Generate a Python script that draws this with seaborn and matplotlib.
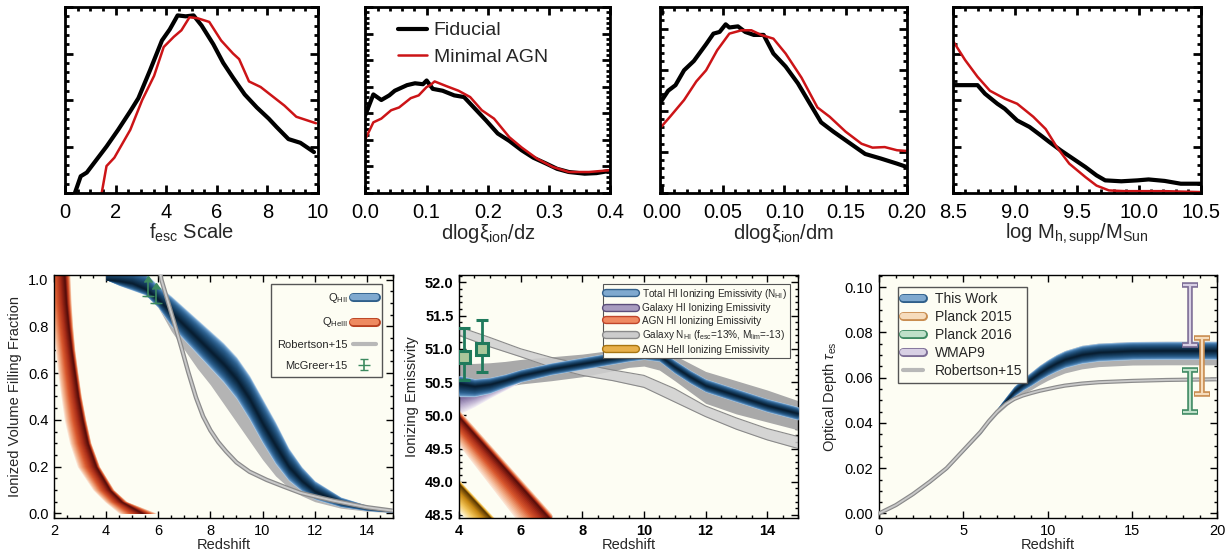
import numpy as np
import matplotlib
matplotlib.use("Agg")
import matplotlib.pyplot as plt
import matplotlib.patheffects as pe
from matplotlib.lines import Line2D
from matplotlib.ticker import MultipleLocator, FormatStrFormatter
import seaborn as sns

# ---------------- top row: marginal posteriors ----------------
fesc_fid_x = [0.30, 0.39, 0.62, 0.86, 1.64, 2.10, 2.58, 2.90, 3.36, 3.83, 4.14, 4.45, 4.77, 5.08,
              5.40, 5.86, 6.25, 6.64, 7.10, 7.58, 8.05, 8.36, 8.83, 9.30, 9.84]
fesc_fid_y = [-0.05, 0.0, 0.09, 0.11, 0.25, 0.34, 0.44, 0.51, 0.66, 0.82, 0.88, 0.955, 0.95, 0.955,
              0.90, 0.80, 0.70, 0.62, 0.53, 0.46, 0.40, 0.355, 0.29, 0.27, 0.22]
fesc_agn_x = [1.40, 1.45, 1.64, 1.95, 2.58, 3.05, 3.52, 3.90, 4.30, 4.60, 4.92, 5.23, 5.70, 6.17,
              6.64, 6.88, 7.27, 7.73, 8.20, 8.67, 9.14, 9.92]
fesc_agn_y = [-0.05, 0.0, 0.145, 0.19, 0.34, 0.50, 0.63, 0.785, 0.84, 0.875, 0.945, 0.94, 0.92, 0.82,
              0.75, 0.72, 0.60, 0.57, 0.52, 0.47, 0.41, 0.375]

dz_fid_x = [0.0, 0.013, 0.026, 0.039, 0.048, 0.068, 0.081, 0.094, 0.100, 0.110, 0.126, 0.145, 0.161,
            0.177, 0.197, 0.216, 0.235, 0.255, 0.274, 0.294, 0.313, 0.332, 0.358, 0.377, 0.397]
dz_fid_y = [0.42, 0.53, 0.50, 0.525, 0.55, 0.58, 0.59, 0.585, 0.605, 0.56, 0.55, 0.525, 0.516,
            0.46, 0.39, 0.32, 0.28, 0.23, 0.19, 0.16, 0.13, 0.113, 0.104, 0.107, 0.118]
dz_agn_x = [0.0, 0.013, 0.026, 0.042, 0.055, 0.074, 0.087, 0.100, 0.106, 0.113, 0.132, 0.152, 0.171,
            0.190, 0.210, 0.235, 0.255, 0.280, 0.306, 0.332, 0.365, 0.397]
dz_agn_y = [0.29, 0.38, 0.40, 0.445, 0.46, 0.51, 0.525, 0.57, 0.58, 0.60, 0.575, 0.55, 0.516,
            0.445, 0.40, 0.30, 0.245, 0.185, 0.14, 0.113, 0.113, 0.122]

dm_fid_x = [-0.002, 0.005, 0.011, 0.018, 0.026, 0.036, 0.042, 0.047, 0.052, 0.055, 0.062, 0.068,
            0.075, 0.083, 0.091, 0.101, 0.111, 0.120, 0.130, 0.140, 0.153, 0.166, 0.179, 0.192, 0.200]
dm_fid_y = [0.48, 0.55, 0.58, 0.66, 0.71, 0.80, 0.857, 0.866, 0.907, 0.89, 0.896, 0.866,
            0.85, 0.85, 0.75, 0.68, 0.59, 0.49, 0.38, 0.33, 0.27, 0.21, 0.185, 0.158, 0.14]
dm_agn_x = [-0.002, 0.0065, 0.018, 0.028, 0.036, 0.045, 0.055, 0.065, 0.073, 0.081, 0.091, 0.101,
            0.114, 0.127, 0.137, 0.150, 0.163, 0.172, 0.182, 0.192, 0.200]
dm_agn_y = [0.346, 0.41, 0.50, 0.60, 0.66, 0.767, 0.857, 0.875, 0.875, 0.85, 0.83, 0.75,
            0.62, 0.46, 0.41, 0.33, 0.265, 0.244, 0.247, 0.23, 0.226]

mh_fid_x = [8.50, 8.70, 8.76, 8.86, 8.92, 9.02, 9.12, 9.21, 9.28, 9.37, 9.47, 9.57, 9.66, 9.73,
            9.86, 9.99, 10.08, 10.21, 10.34, 10.50]
mh_fid_y = [0.58, 0.58, 0.534, 0.48, 0.453, 0.39, 0.355, 0.31, 0.274, 0.23, 0.185, 0.14, 0.095, 0.068,
            0.063, 0.068, 0.073, 0.065, 0.05, 0.05]
mh_agn_x = [8.50, 8.60, 8.70, 8.80, 8.92, 9.02, 9.15, 9.25, 9.34, 9.44, 9.57, 9.66, 9.76, 9.89,
            10.21, 10.50]
mh_agn_y = [0.82, 0.715, 0.625, 0.55, 0.507, 0.48, 0.41, 0.344, 0.247, 0.158, 0.086, 0.04, 0.014, 0.01,
            0.01, 0.005]

# ---------------- bottom left: ionized volume filling fraction ----------------
qhii_z = [4.0, 4.5, 5.0, 5.5, 6.0, 6.5, 7.0, 7.5, 8.0, 8.5, 9.0, 9.5, 10.0, 10.5, 11.0, 11.5, 12.0,
          13.0, 14.0, 15.0]
qhii_mid = [1.0, 0.995, 0.985, 0.96, 0.915, 0.86, 0.805, 0.75, 0.695, 0.64, 0.575, 0.49, 0.385,
            0.29, 0.20, 0.14, 0.095, 0.045, 0.022, 0.009]
qhii_hi = [1.04, 1.04, 1.04, 1.03, 0.975, 0.93, 0.88, 0.83, 0.78, 0.73, 0.67, 0.59, 0.49,
           0.39, 0.28, 0.20, 0.14, 0.07, 0.035, 0.015]
qhii_lo = [1.0, 0.975, 0.955, 0.935, 0.88, 0.80, 0.74, 0.68, 0.62, 0.56, 0.49, 0.40, 0.30,
           0.21, 0.14, 0.095, 0.06, 0.028, 0.012, 0.004]
qgrey_z = [5.8, 6.5, 7.0, 7.5, 8.0, 8.5, 9.0, 9.5, 10.0, 10.5, 11.0, 11.5, 12.0, 13.0, 14.0, 15.0]
qgrey_hi = [0.97, 0.90, 0.85, 0.79, 0.73, 0.67, 0.60, 0.52, 0.42, 0.33, 0.24, 0.17, 0.12, 0.06, 0.028, 0.01]
qgrey_lo = [0.92, 0.78, 0.70, 0.62, 0.55, 0.47, 0.39, 0.31, 0.23, 0.16, 0.11, 0.075, 0.05, 0.022, 0.009, 0.003]

qheiii_q = [1.05, 0.9, 0.8, 0.7, 0.6, 0.5, 0.4, 0.3, 0.2, 0.1, 0.05, 0.0]
qheiii_mid = [2.38, 2.47, 2.56, 2.67, 2.80, 2.93, 3.10, 3.30, 3.62, 4.15, 4.60, 5.40]
qheiii_right = [2.60, 2.66, 2.72, 2.80, 2.92, 3.05, 3.22, 3.42, 3.75, 4.30, 4.80, 5.95]
qheiii_left = [1.70, 1.80, 1.93, 2.05, 2.15, 2.27, 2.40, 2.60, 2.90, 3.50, 3.95, 4.50]

rob_q_z = [6.05, 6.12, 6.40, 6.64, 6.90, 7.15, 7.45, 7.72, 8.00, 8.30, 8.60, 9.00, 9.50, 10.16,
           10.80, 11.44, 12.10, 12.72, 13.40, 14.00, 15.00]
rob_q = [1.05, 1.0, 0.895, 0.805, 0.705, 0.605, 0.495, 0.415, 0.355, 0.305, 0.265, 0.218, 0.178, 0.143,
         0.115, 0.088, 0.070, 0.054, 0.039, 0.026, 0.011]

mcg_z = [5.6, 5.9]
mcg_q = [0.93, 0.90]
mcg_err = [0.06, 0.06]

# ---------------- bottom middle: ionizing emissivity ----------------
em_z = [4, 4.5, 5, 5.5, 6, 7, 8, 9, 9.5, 10, 10.5, 11, 11.5, 12, 13, 14, 15]
em_tot_mid = [50.48, 50.44, 50.47, 50.53, 50.60, 50.70, 50.78, 50.86, 50.90, 50.93, 50.90, 50.73,
              50.58, 50.45, 50.30, 50.15, 50.03]
em_tot_hi = [50.60, 50.55, 50.57, 50.62, 50.69, 50.79, 50.87, 50.95, 50.99, 51.02, 50.99, 50.83,
             50.68, 50.55, 50.40, 50.25, 50.13]
em_tot_lo = [50.28, 50.28, 50.33, 50.42, 50.50, 50.61, 50.69, 50.77, 50.81, 50.84, 50.81, 50.63,
             50.48, 50.35, 50.20, 50.05, 49.93]
em_grey_hi = [50.78, 50.78, 50.79, 50.81, 50.84, 50.88, 50.92, 50.98, 51.02, 51.05, 51.00, 50.90,
              50.78, 50.66, 50.52, 50.38, 50.22]
em_grey_lo = [50.35, 50.38, 50.40, 50.43, 50.47, 50.52, 50.58, 50.67, 50.72, 50.74, 50.68, 50.52,
              50.35, 50.18, 50.02, 49.90, 49.78]
gal_z = [4.0, 4.5, 5.0, 5.5, 6.0]
gal_hi = [50.40, 50.42, 50.46, 50.52, 50.58]
gal_lo = [50.02, 50.13, 50.26, 50.38, 50.50]
nhi_z = [4, 5, 6, 7, 8, 9, 10, 11, 12, 13, 14, 15]
nhi_hi = [51.33, 51.17, 51.00, 50.87, 50.77, 50.68, 50.60, 50.40, 50.14, 49.96, 49.80, 49.68]
nhi_lo = [51.20, 51.03, 50.88, 50.72, 50.60, 50.52, 50.42, 50.20, 49.98, 49.79, 49.63, 49.50]
agn_z = [4, 5, 6, 7]
agn_mid = [49.98, 49.46, 48.94, 48.42]
agn_hi = [50.08, 49.56, 49.04, 48.52]
agn_lo = [49.55, 48.95, 48.35, 47.80]
heii_z = [4, 5, 6]
heii_mid = [48.97, 48.47, 47.97]
heii_hi = [49.03, 48.53, 48.03]
heii_lo = [48.55, 48.05, 47.50]
obs_z = [4.16, 4.76]
obs_em = [50.87, 51.00]
obs_lo = [0.34, 0.35]
obs_up = [0.44, 0.43]

# ---------------- bottom right: optical depth ----------------
tau_z = [0, 1, 2, 3, 4, 5, 6, 6.5, 7, 7.5, 8, 8.5, 9, 9.5, 10, 10.5, 11, 12, 13, 15, 17, 20]
rob_tau = [0.0, 0.0037, 0.0085, 0.014, 0.020, 0.028, 0.036, 0.0408, 0.0450, 0.0483, 0.0506, 0.0521,
           0.0532, 0.0542, 0.0550, 0.0558, 0.0565, 0.0574, 0.0580, 0.0586, 0.0590, 0.0593]
work_tau_mid = [0.0, 0.0037, 0.0085, 0.014, 0.020, 0.028, 0.036, 0.0409, 0.0455, 0.0498, 0.0540,
                0.0570, 0.0595, 0.0622, 0.0645, 0.0665, 0.0682, 0.0703, 0.0713, 0.0720, 0.0721, 0.0721]
work_tau_hi = [0.0003, 0.0040, 0.0088, 0.0144, 0.0204, 0.0285, 0.0366, 0.0416, 0.0465, 0.0514, 0.0562,
               0.0596, 0.0625, 0.0655, 0.0680, 0.0702, 0.0720, 0.0743, 0.0753, 0.0760, 0.0761, 0.0761]
work_tau_lo = [0.0, 0.0034, 0.0082, 0.0136, 0.0196, 0.0275, 0.0354, 0.0402, 0.0445, 0.0482, 0.0518,
               0.0544, 0.0565, 0.0589, 0.0610, 0.0628, 0.0644, 0.0663, 0.0673, 0.0680, 0.0681, 0.0681]
work_grey_lo = [0.0, 0.0032, 0.0080, 0.0134, 0.0194, 0.0272, 0.0350, 0.0398, 0.0439, 0.0472, 0.0505,
                0.0528, 0.0547, 0.0569, 0.0589, 0.0606, 0.0621, 0.0639, 0.0649, 0.0656, 0.0657, 0.0657]
cmb_names = ["WMAP9", "Planck 2015", "Planck 2016"]
cmb_z = [18.4, 19.1, 18.4]
cmb_tau = [0.0877, 0.0653, 0.0542]
cmb_err = [0.0134, 0.0123, 0.0094]

sns.set_theme(style="ticks")
plt.rcParams["font.family"] = ["Liberation Sans", "DejaVu Sans"]
plt.rcParams["mathtext.fontset"] = "custom"
plt.rcParams["mathtext.rm"] = "Liberation Sans"
plt.rcParams["mathtext.it"] = "Liberation Sans:italic"
plt.rcParams["mathtext.bf"] = "Liberation Sans:bold"

cream = "#fdfdf3"
blue_cmap = sns.blend_palette(["#b4d0e8", "#5e92c2", "#2d6190", "#163e60", "#061a2c"], as_cmap=True)
red_cmap = sns.blend_palette(["#fbe2d0", "#f0a47c", "#d9582e", "#a82c18", "#4a0808"], as_cmap=True)
purple_cmap = sns.blend_palette(["#efeaf3", "#b3a6c9", "#6f5d92", "#3a2a58"], as_cmap=True)
gold_cmap = sns.blend_palette(["#fdf3cf", "#f2c55a", "#c98a14", "#4a2c00"], as_cmap=True)


def gradient_band(ax, x, mid, lo, hi, cmap, n=18, zorder=2, vertical=False, gamma=1.0):
    mid, lo, hi = np.asarray(mid), np.asarray(lo), np.asarray(hi)
    for f in np.linspace(1.0, 0.05, n):
        a = mid - f * (mid - lo)
        b = mid + f * (hi - mid)
        col = cmap((1.0 - f) ** gamma)
        if vertical:
            ax.fill_betweenx(x, a, b, color=col, lw=0, zorder=zorder)
        else:
            ax.fill_between(x, a, b, color=col, lw=0, zorder=zorder)


def band_handle(fill, edge, lw=4.5):
    return Line2D([], [], color=fill, lw=lw,
                  path_effects=[pe.Stroke(linewidth=lw + 2, foreground=edge), pe.Normal()])


def tick_style(ax, width, length):
    ax.tick_params(which="both", direction="in", top=True, right=True, width=width, colors="black")
    ax.tick_params(which="major", length=length)
    ax.tick_params(which="minor", length=length * 0.5)
    for s in ax.spines.values():
        s.set_linewidth(width)
        s.set_color("black")


fig = plt.figure(figsize=(12.29, 5.58), dpi=100)

# ---------------- top row ----------------
top_boxes = [(0.0529, 0.6541, 0.2059, 0.3333), (0.2973, 0.6541, 0.1994, 0.3333),
             (0.5367, 0.6541, 0.2011, 0.3333), (0.7752, 0.6541, 0.2017, 0.3333)]
top_data = [
    (fesc_fid_x, fesc_fid_y, fesc_agn_x, fesc_agn_y, (0, 10), 2, 0.5, "%d", 0.25,
     r"f$_{\rm esc}$ Scale"),
    (dz_fid_x, dz_fid_y, dz_agn_x, dz_agn_y, (0, 0.4), 0.1, 0.02, "%.1f", 1 / 7,
     r"dlogξ$_{\rm ion}$/dz"),
    (dm_fid_x, dm_fid_y, dm_agn_x, dm_agn_y, (-0.002, 0.2), 0.05, 0.01, "%.2f", 0.221,
     r"dlogξ$_{\rm ion}$/dm"),
    (mh_fid_x, mh_fid_y, mh_agn_x, mh_agn_y, (8.5, 10.5), 0.5, 0.1, "%.1f", 0.25,
     r"log M$_{\rm h,supp}$/M$_{\rm Sun}$"),
]
for i, (box, (fx, fy, ax_, ay, xlim, maj, mnr, fmt, ymaj, xlabel)) in enumerate(zip(top_boxes, top_data)):
    ax = fig.add_axes(box)
    sns.lineplot(x=fx, y=fy, ax=ax, color="black", lw=3.0, label="Fiducial", sort=False)
    sns.lineplot(x=ax_, y=ay, ax=ax, color="#cc1417", lw=1.8, label="Minimal AGN", sort=False)
    ax.set_xlim(*xlim)
    ax.set_ylim(0, 1.0)
    ax.xaxis.set_major_locator(MultipleLocator(maj))
    ax.xaxis.set_minor_locator(MultipleLocator(mnr))
    ax.xaxis.set_major_formatter(FormatStrFormatter(fmt))
    ax.yaxis.set_major_locator(MultipleLocator(ymaj))
    ax.yaxis.set_minor_locator(MultipleLocator(ymaj / 5))
    tick_style(ax, 2.0, 6)
    ax.tick_params(labelleft=False, labelsize=14.5, pad=7)
    ax.set_xlabel(xlabel, fontsize=14.5, labelpad=0)
    ax.set_ylabel("")
    if i == 1:
        ax.legend(loc="upper left", bbox_to_anchor=(0.06, 1.015), frameon=False, fontsize=14,
                  handlelength=1.5, handletextpad=0.35, labelspacing=0.45)
    else:
        ax.get_legend().remove()

bot_y, bot_h = 0.0717, 0.4355

# ---------------- bottom left ----------------
ax = fig.add_axes((0.0439, bot_y, 0.2758, bot_h))
ax.set_facecolor(cream)
ax.fill_between(qgrey_z, qgrey_lo, qgrey_hi, color="#b4b4b4", lw=0, zorder=1)
gradient_band(ax, qhii_z, qhii_mid, qhii_lo, qhii_hi, blue_cmap, zorder=2, gamma=0.6)
gradient_band(ax, qheiii_q, qheiii_mid, qheiii_left, qheiii_right, red_cmap, zorder=2, vertical=True,
              gamma=0.8)
ax.plot(rob_q_z, rob_q, color="#8c8c8c", lw=3.2, zorder=3, solid_capstyle="butt")
ax.plot(rob_q_z, rob_q, color="#c9c9c9", lw=1.4, zorder=3)
mcg = ax.errorbar(mcg_z, mcg_q, yerr=mcg_err, lolims=True, fmt="_", color="#3d8a5f", ms=9,
                  capsize=3, lw=1.2, zorder=4)
ax.set_xlim(2, 15)
ax.set_ylim(-0.02, 1.02)
ax.xaxis.set_major_locator(MultipleLocator(2))
ax.xaxis.set_minor_locator(MultipleLocator(0.5))
ax.yaxis.set_major_locator(MultipleLocator(0.2))
ax.yaxis.set_minor_locator(MultipleLocator(0.05))
tick_style(ax, 1.0, 5)
ax.tick_params(labelsize=10.5, pad=4)
ax.set_xlabel("Redshift", fontsize=10.5, labelpad=0)
ax.set_ylabel("Ionized Volume Filling Fraction", fontsize=10.5, labelpad=4)
h1 = [band_handle("#7fa9cf", "#2f5f8a"), band_handle("#ee8a60", "#b8401f"),
      Line2D([], [], color="#b8b8b8", lw=3), mcg]
leg = ax.legend(h1, [r"Q$_{\rm HII}$", r"Q$_{\rm HeIII}$", "Robertson+15", "McGreer+15"],
                loc="upper right", bbox_to_anchor=(0.985, 0.985), fontsize=8, markerfirst=False,
                handlelength=2.0, handletextpad=0.5, labelspacing=0.95, borderpad=0.6, fancybox=False,
                edgecolor="#555555", facecolor=cream, framealpha=1)
leg.get_frame().set_linewidth(1.0)

# ---------------- bottom middle ----------------
ax = fig.add_axes((0.3735, bot_y, 0.2758, bot_h))
ax.set_facecolor(cream)
ax.fill_between(em_z, em_grey_lo, em_grey_hi, color="#a9a9a9", lw=0, zorder=1)
gradient_band(ax, gal_z, gal_hi, gal_lo, gal_hi, purple_cmap, zorder=2)
ax.fill_between(nhi_z, nhi_lo, nhi_hi, color="#cfcfcf", alpha=0.85, lw=0, zorder=2)
ax.plot(nhi_z, nhi_hi, color="#8a8a8a", lw=0.8, zorder=2)
ax.plot(nhi_z, nhi_lo, color="#8a8a8a", lw=0.8, zorder=2)
gradient_band(ax, em_z, em_tot_mid, em_tot_lo, em_tot_hi, blue_cmap, zorder=3, gamma=0.6)
gradient_band(ax, agn_z, agn_mid, agn_lo, agn_hi, red_cmap, zorder=2)
gradient_band(ax, heii_z, heii_mid, heii_lo, heii_hi, gold_cmap, zorder=2)
ax.errorbar(obs_z, obs_em, yerr=[obs_lo, obs_up], fmt="s", ms=9, mfc="#a9c79a", mec="#1f7a5c",
            mew=2.2, ecolor="#1f7a5c", elinewidth=2, capsize=4, capthick=2, zorder=5)
ax.set_xlim(4, 15)
ax.set_ylim(48.455, 52.11)
ax.xaxis.set_major_locator(MultipleLocator(2))
ax.xaxis.set_minor_locator(MultipleLocator(0.5))
ax.yaxis.set_major_locator(MultipleLocator(0.5))
ax.yaxis.set_minor_locator(MultipleLocator(0.1))
ax.yaxis.set_major_formatter(FormatStrFormatter("%.1f"))
tick_style(ax, 1.0, 5)
ax.tick_params(labelsize=10.5, pad=4)
for lab in ax.get_xticklabels() + ax.get_yticklabels():
    lab.set_fontweight("bold")
ax.set_xlabel("Redshift", fontsize=10.5, labelpad=0)
ax.set_ylabel("Ionizing Emissivity", fontsize=10.5, labelpad=4)
h2 = [band_handle("#7fa9cf", "#34618a", 4), band_handle("#a89cc0", "#5b4d7a", 4),
      band_handle("#ef8a62", "#c0452a", 4), band_handle("#cccccc", "#8a8a8a", 4),
      band_handle("#e8b04a", "#a87510", 4)]
leg = ax.legend(h2, [r"Total HI Ionizing Emissivity (N$_{\rm HI}$)", "Galaxy HI Ionizing Emissivity",
                     "AGN HI Ionizing Emissivity",
                     r"Galaxy N$_{\rm HI}$ (f$_{\rm esc}$=13%, M$_{\rm lim}$=-13)",
                     "AGN HeII Ionizing Emissivity"],
                loc="upper right", bbox_to_anchor=(0.99, 0.985), fontsize=7.2, handlelength=3.0,
                handletextpad=0.6, labelspacing=0.25, borderpad=0.3, fancybox=False,
                edgecolor="#555555", facecolor=cream, framealpha=1)
leg.get_frame().set_linewidth(0.8)

# ---------------- bottom right ----------------
ax = fig.add_axes((0.7152, bot_y, 0.2750, bot_h))
ax.set_facecolor(cream)
ax.fill_between(tau_z, work_grey_lo, work_tau_hi, color="#b0b0b0", lw=0, zorder=1)
gradient_band(ax, tau_z, work_tau_mid, work_tau_lo, work_tau_hi, blue_cmap, zorder=2, gamma=0.6)
ax.plot(tau_z, rob_tau, color="#8c8c8c", lw=3.0, zorder=3)
ax.plot(tau_z, rob_tau, color="#c9c9c9", lw=1.3, zorder=3)
cmb_dark = ["#7d6e96", "#c98d50", "#3f8a63"]
cmb_light = ["#d8d0e4", "#f6dcbc", "#bfe0c9"]
for zc, tc, ec, dk, lt in zip(cmb_z, cmb_tau, cmb_err, cmb_dark, cmb_light):
    ax.errorbar([zc], [tc], yerr=[ec], fmt="none", ecolor=dk, elinewidth=4, capsize=6, capthick=4,
                zorder=4)
    ax.errorbar([zc], [tc], yerr=[ec], fmt="none", ecolor=lt, elinewidth=1.6, capsize=5,
                capthick=1.6, zorder=5)
ax.set_xlim(0, 20)
ax.set_ylim(-0.002, 0.1054)
ax.xaxis.set_major_locator(MultipleLocator(5))
ax.xaxis.set_minor_locator(MultipleLocator(1))
ax.yaxis.set_major_locator(MultipleLocator(0.02))
ax.yaxis.set_minor_locator(MultipleLocator(0.005))
ax.yaxis.set_major_formatter(FormatStrFormatter("%.2f"))
tick_style(ax, 1.0, 5)
ax.tick_params(labelsize=10.5, pad=4)
ax.set_xlabel("Redshift", fontsize=10.5, labelpad=0)
ax.set_ylabel(r"Optical Depth $\tau_{\rm es}$", fontsize=10.5, labelpad=4)
h3 = [band_handle("#7fa9cf", "#2f5f8a"), band_handle(cmb_light[1], cmb_dark[1]),
      band_handle(cmb_light[2], cmb_dark[2]), band_handle(cmb_light[0], cmb_dark[0]),
      Line2D([], [], color="#b8b8b8", lw=3)]
leg = ax.legend(h3, ["This Work", cmb_names[1], cmb_names[2], cmb_names[0], "Robertson+15"],
                loc="upper left", bbox_to_anchor=(0.035, 0.98), fontsize=10, handlelength=1.5,
                handletextpad=0.8, labelspacing=0.3, borderpad=0.35, fancybox=False,
                edgecolor="#555555", facecolor=cream, framealpha=1)
leg.get_frame().set_linewidth(1.0)

fig.savefig("out.png", dpi=100)
